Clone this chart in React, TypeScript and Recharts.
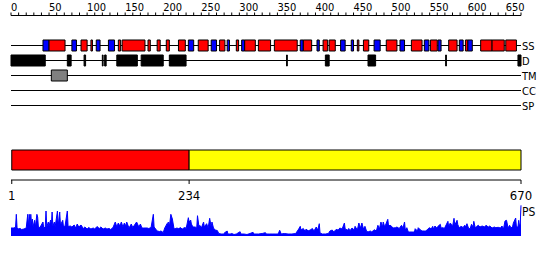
import {
  Area,
  AreaChart,
  ComposedChart,
  ReferenceArea,
  XAxis,
  YAxis,
} from 'recharts';

const font = "'DejaVu Sans Condensed', 'DejaVu Sans', sans-serif";

const seqLength = 670;
const rulerTicks = Array.from({ length: 68 }, (_, i) => i * 10);
const trackNames = ['SS', 'D', 'TM', 'CC', 'SP'];

// secondary structure, [start, end] in residues
const helix = [
  [50, 71], [92, 100], [105, 107], [141, 144], [146, 176], [180, 183],
  [192, 196], [204, 208], [220, 229], [246, 259], [274, 281], [296, 299],
  [307, 321], [325, 341], [346, 376], [384, 395], [410, 416], [418, 426],
  [455, 457], [463, 470], [493, 507], [526, 540], [551, 560], [575, 586],
  [597, 600], [617, 632], [632, 648], [650, 664],
];
const strand = [
  [42, 50], [80, 86], [112, 117], [128, 136], [233, 240], [263, 270],
  [284, 287], [303, 307], [380, 384], [402, 405], [433, 439], [447, 450],
  [477, 485], [511, 517], [543, 549], [561, 565], [589, 594], [600, 606],
];
const disorder = [
  [0, 45], [74, 79], [96, 98], [120, 121], [123, 125], [139, 166],
  [171, 200], [208, 230], [362, 363], [413, 418], [469, 479], [571, 572],
  [666, 670],
];
const transmembrane = [[53, 74]];

const domainBounds = [[1, 234], [234, 670]];
const domainColors = ['#ff0000', '#ffff00'];
const scaleTicks = [1, 234, 670];

// PS profile: [residue, score]
const psProfile = [
  [0, 8], [4, 8], [6, 9], [7, 21.7], [8, 8], [9, 7], [12, 7.5], [14, 6.5],
  [17, 7], [20, 8], [22, 21.7], [23, 10], [24, 21.7], [25, 10], [26, 21.7],
  [27, 12], [28, 17], [29, 9], [31, 15.7], [32, 9], [34, 21.7], [35, 19],
  [36, 9], [38, 8.5], [42, 14], [43, 8], [45, 9], [46, 25], [47, 9], [49, 14],
  [50, 10], [52, 16], [53, 10], [54, 24], [55, 10], [57, 14], [58, 9],
  [61, 25], [62, 10], [64, 24], [65, 11], [68, 15.7], [69, 9], [71, 10],
  [74, 25], [75, 9.5], [78, 10], [80, 9], [83, 11], [85, 8], [87, 12],
  [89, 9], [92, 11], [95, 7.5], [97, 9], [100, 7], [102, 8.5], [105, 7],
  [108, 8], [110, 7], [113, 9.5], [116, 7.5], [118, 9], [121, 7], [124, 8],
  [126, 7], [129, 7.5], [131, 6.5], [134, 8.5], [137, 14], [139, 9],
  [141, 13], [143, 10], [145, 14], [147, 9], [149, 13], [151, 10], [152, 14],
  [155, 8], [158, 12], [160, 8.5], [165, 14], [168, 9], [170, 12], [172, 8],
  [174, 8], [176, 8], [179, 8], [181, 7.5], [184, 8.5], [187, 21.7], [188, 9],
  [189, 8], [192, 5], [195, 4.5], [197, 5], [200, 3.5], [202, 8], [205, 12.3],
  [207, 14], [208, 9], [210, 21.7], [212, 17], [214, 8], [215, 7], [218, 8],
  [221, 7], [222, 8.5], [225, 7], [227, 8], [229, 8.5], [230, 7], [233, 18.3],
  [234, 14], [236, 16], [237, 12], [239, 9], [242, 9], [244, 8], [245, 20.3],
  [247, 9], [248, 10.7], [250, 8], [253, 14], [254, 9], [257, 12.3], [259, 8],
  [261, 17.7], [263, 9], [264, 14], [266, 8], [268, 6], [271, 5.5], [273, 2.5],
  [276, 2], [279, 2], [281, 3.5], [284, 5], [285, 2], [288, 2], [290, 2.5],
  [293, 1.5], [296, 2], [301, 4.3], [302, 2], [306, 2], [310, 1.5], [314, 2.5],
  [318, 3.7], [319, 2], [325, 2], [330, 2.5], [334, 3.3], [336, 2], [340, 2],
  [343, 2], [347, 2], [351, 2], [353, 5.7], [355, 2], [359, 2.5], [364, 2],
  [369, 2], [374, 2.5], [378, 7], [380, 9.7], [381, 6], [384, 7.5], [386, 5],
  [388, 7], [390, 5], [393, 6], [396, 7.5], [398, 5], [401, 9], [403, 6],
  [405, 12.3], [406, 3], [409, 2], [413, 2], [417, 2.5], [419, 5], [422, 6],
  [424, 4], [427, 6.5], [430, 6], [432, 8], [435, 7], [438, 13], [439, 7],
  [442, 6], [444, 7.5], [445, 5], [448, 8], [451, 6], [452, 9.7], [455, 6],
  [457, 13], [459, 8], [461, 13], [463, 7], [465, 9.7], [467, 5], [469, 4],
  [472, 5], [474, 4], [477, 6.3], [480, 5], [482, 10.7], [484, 7], [486, 14],
  [488, 9], [489, 14], [491, 9], [495, 16.7], [496, 10], [498, 10.7],
  [500, 9.7], [502, 8], [505, 8.3], [507, 9], [510, 7.5], [513, 10.7],
  [515, 8], [517, 14], [518, 6], [520, 8.3], [522, 4], [524, 4], [527, 4],
  [530, 4], [531, 7.3], [534, 5], [535, 8.3], [538, 6], [540, 5], [543, 5],
  [545, 5], [548, 7.3], [550, 8.3], [552, 7], [554, 9.7], [555, 7], [557, 10],
  [559, 8], [561, 9.7], [564, 11.7], [565, 8], [568, 8.3], [569, 7],
  [574, 14.7], [575, 9], [577, 13], [579, 11.3], [580, 9], [582, 17.7],
  [583, 11], [586, 15.7], [587, 11.3], [589, 8], [591, 9.7], [594, 8.5],
  [596, 10.7], [597, 9], [599, 12.3], [601, 8], [603, 7], [605, 11.7],
  [607, 9], [608, 14.7], [610, 8], [612, 9.7], [614, 10.7], [616, 9],
  [619, 10], [622, 9], [624, 10.7], [627, 9], [629, 10], [632, 8], [635, 9],
  [637, 8.3], [640, 8.7], [643, 8], [645, 10], [647, 7], [649, 15],
  [651, 15.7], [653, 8], [655, 10.7], [657, 8], [659, 9.7], [660, 13],
  [663, 18], [664, 9], [666, 9], [667, 15.7], [668, 10], [669, 12],
  [670, 30.7],
];

const psData = psProfile.map(([pos, score]) => ({ pos, score }));

// row centres on the track chart's y scale
const rowOf = (i: number) => i + 2;
const half = 0.367;

const RulerTick = (props: any) => {
  const { x, y, payload } = props;
  if (payload.value % 50 !== 0) return <g />;
  return (
    <text x={x} y={y} dy={0} textAnchor="start" fontSize={11} fontFamily={font} fill="#000">
      {payload.value}
    </text>
  );
};

const TrackTick = (props: any) => {
  const { x, y, payload } = props;
  return (
    <text x={x} y={y} dy={4} textAnchor="start" fontSize={11} fontFamily={font} fill="#000">
      {trackNames[payload.value - 2]}
    </text>
  );
};

const ScaleTick = (props: any) => {
  const { x, y, payload } = props;
  return (
    <text x={x} y={y} dy={14} textAnchor="middle" fontSize={13} fontFamily={font} fill="#000">
      {payload.value}
    </text>
  );
};

const PsTick = (props: any) => {
  const { x, y } = props;
  return (
    <text x={x} y={y} dy={4} textAnchor="start" fontSize={12} fontFamily={font} fill="#000">
      PS
    </text>
  );
};

const segments = (list: number[][], row: number, fill: string, key: string) =>
  list.map(([s, e], i) => (
    <ReferenceArea
      key={key + i}
      x1={s}
      x2={e}
      y1={row - half}
      y2={row + half}
      fill={fill}
      fillOpacity={1}
      stroke="#000"
      strokeWidth={1}
      ifOverflow="visible"
    />
  ));

const App = () => {
  return (
    <div style={{ position: 'absolute', left: 0, top: 0, width: 550, height: 260, background: '#fff' }}>
      <div style={{ position: 'absolute', left: 0, top: 0 }}>
        <ComposedChart
          width={550}
          height={121}
          data={rulerTicks.map(pos => ({ pos }))}
          margin={{ top: 0, right: 0, bottom: 0.5, left: 11 }}
        >
          <XAxis
            dataKey="pos"
            type="number"
            orientation="top"
            domain={[0, seqLength]}
            allowDataOverflow
            ticks={rulerTicks}
            interval={0}
            height={15.5}
            tickSize={3}
            tickMargin={2}
            stroke="#000"
            tick={<RulerTick />}
          />
          <YAxis
            type="number"
            orientation="right"
            domain={[0, 7]}
            allowDataOverflow
            reversed
            width={29}
            ticks={trackNames.map((_, i) => rowOf(i))}
            interval={0}
            axisLine={false}
            tickLine={false}
            tickSize={0}
            tickMargin={1}
            tick={<TrackTick />}
          />
          {trackNames.map((name, i) => (
            <ReferenceArea
              key={name}
              x1={0}
              x2={seqLength}
              y1={rowOf(i) - 1 / 30}
              y2={rowOf(i) + 1 / 30}
              fill="#000"
              fillOpacity={1}
              ifOverflow="visible"
            />
          ))}
          {segments(strand, rowOf(0), '#0000ff', 'e')}
          {segments(helix, rowOf(0), '#ff0000', 'h')}
          {segments(disorder, rowOf(1), '#000000', 'd')}
          {segments(transmembrane, rowOf(2), '#808080', 't')}
        </ComposedChart>
      </div>
      <div style={{ position: 'absolute', left: 0, top: 140 }}>
        <ComposedChart
          width={550}
          height={70}
          data={scaleTicks.map(pos => ({ pos }))}
          margin={{ top: 10, right: 29, bottom: 0, left: 11 }}
        >
          <XAxis
            dataKey="pos"
            type="number"
            domain={[0, seqLength]}
            allowDataOverflow
            ticks={scaleTicks}
            interval={0}
            height={30}
            tickSize={4}
            tickMargin={2}
            stroke="#000"
            tick={<ScaleTick />}
          />
          <YAxis type="number" domain={[0, 30]} allowDataOverflow reversed hide />
          {domainBounds.map(([s, e], i) => (
            <ReferenceArea
              key={'dom' + i}
              x1={s}
              x2={e}
              y1={0}
              y2={20}
              fill={domainColors[i]}
              fillOpacity={1}
              stroke="#000"
              strokeWidth={1}
              ifOverflow="visible"
            />
          ))}
        </ComposedChart>
      </div>
      <div style={{ position: 'absolute', left: 0, top: 204 }}>
        <AreaChart
          width={550}
          height={40}
          data={psData}
          margin={{ top: 1, right: 0, bottom: 8, left: 11 }}
        >
          <XAxis dataKey="pos" type="number" domain={[0, seqLength]} hide />
          <YAxis
            type="number"
            orientation="right"
            domain={[0, 31]}
            width={29}
            ticks={[24]}
            interval={0}
            axisLine={false}
            tickLine={false}
            tickSize={0}
            tickMargin={1}
            tick={<PsTick />}
          />
          <Area
            type="linear"
            dataKey="score"
            baseValue={0}
            stroke="#0000ff"
            strokeWidth={1}
            fill="#0000ff"
            fillOpacity={1}
            dot={false}
            activeDot={false}
            isAnimationActive={false}
          />
        </AreaChart>
      </div>
    </div>
  );
};

export default App;
